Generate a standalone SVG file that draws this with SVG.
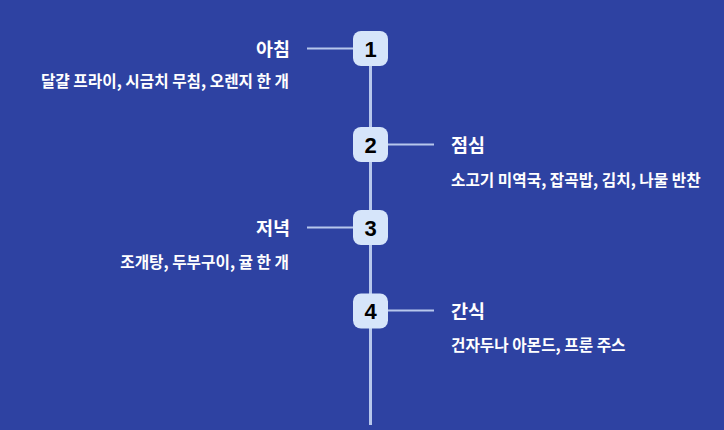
<svg xmlns="http://www.w3.org/2000/svg" width="724" height="430" viewBox="0 0 724 430">
<style>
.title{font-family:"Noto Sans CJK KR","Noto Sans",sans-serif;font-weight:700;font-size:18.5px;fill:#ffffff}
.sub{font-family:"Noto Sans CJK KR","Noto Sans",sans-serif;font-weight:700;font-size:15.7px;fill:#ffffff}
.num{font-family:"Liberation Sans",Arial,sans-serif;font-weight:700;font-size:22px;fill:#000000;text-anchor:middle}
.box{fill:#d6e5fa}
.conn{stroke:#b7c7ec;stroke-width:2;fill:none}
.spine{stroke:#b7c7ec;stroke-width:3;fill:none}
</style>
<rect width="724" height="430" fill="#2e42a2"/>
<g id="connectors">
<line class="spine" x1="370.5" y1="48" x2="370.5" y2="425"/>
<line class="conn" x1="307" y1="48.5" x2="353" y2="48.5"/>
<line class="conn" x1="388" y1="144.5" x2="434" y2="144.5"/>
<line class="conn" x1="307" y1="227.5" x2="353" y2="227.5"/>
<line class="conn" x1="388" y1="310.5" x2="434" y2="310.5"/>
</g>
<g id="node1">
<rect class="box" x="353" y="31" width="35" height="35" rx="8"/>
<text class="num" x="370.5" y="56.5">1</text>
<text class="title" x="290" y="55.5" text-anchor="end">아침</text>
<text class="sub" x="289" y="87" text-anchor="end">달걀 프라이, 시금치 무침, 오렌지 한 개</text>
</g>
<g id="node2">
<rect class="box" x="353" y="127" width="35" height="35" rx="8"/>
<text class="num" x="370.5" y="152.5">2</text>
<text class="title" x="451" y="151.5">점심</text>
<text class="sub" x="451" y="186">소고기 미역국, 잡곡밥, 김치, 나물 반찬</text>
</g>
<g id="node3">
<rect class="box" x="353" y="210" width="35" height="35" rx="8"/>
<text class="num" x="370.5" y="235.5">3</text>
<text class="title" x="290" y="234.5" text-anchor="end">저녁</text>
<text class="sub" x="289" y="268" text-anchor="end">조개탕, 두부구이, 귤 한 개</text>
</g>
<g id="node4">
<rect class="box" x="353" y="293.5" width="35" height="35" rx="8"/>
<text class="num" x="370.5" y="319">4</text>
<text class="title" x="451" y="317.5">간식</text>
<text class="sub" x="451" y="351">건자두나 아몬드, 프룬 주스</text>
</g>
</svg>
